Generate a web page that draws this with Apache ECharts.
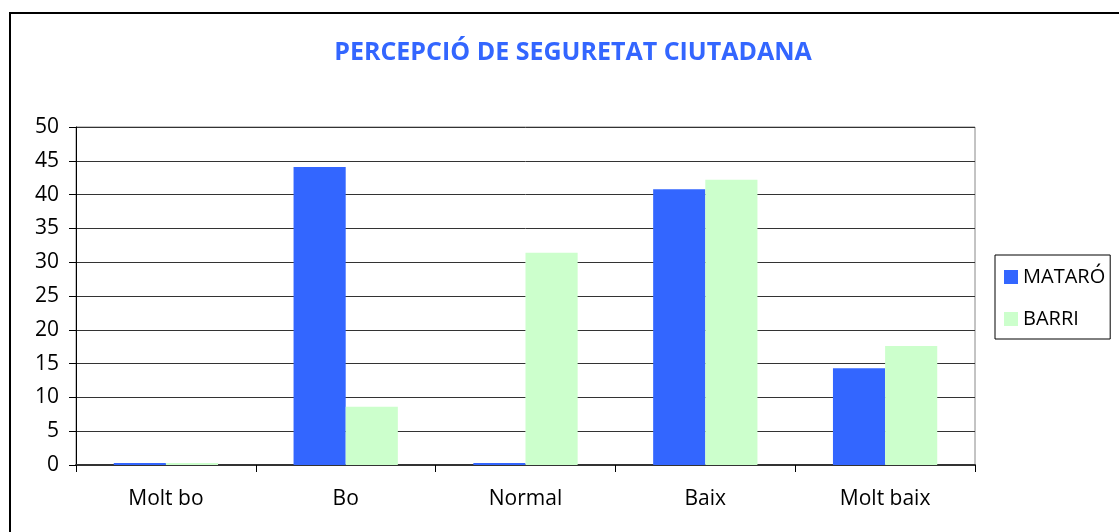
<!DOCTYPE html>
<html>
<head>
<meta charset="utf-8">
<script src="https://cdn.jsdelivr.net/npm/echarts@6/dist/echarts.min.js"></script>
<style>
  html, body { margin: 0; padding: 0; background: #fff; }
  #chart { width: 1119px; height: 532px; }
</style>
</head>
<body>
<div id="chart"></div>
<script>
// dades llegides del gràfic
const categories = ['Molt bo', 'Bo', 'Normal', 'Baix', 'Molt baix']
const mataro = [0.3, 44.1, 0.3, 40.8, 14.3]
const barri = [0.3, 8.6, 31.4, 42.2, 17.6]

const font = "'Open Sans', 'DejaVu Sans', sans-serif"

const chart = echarts.init(document.getElementById('chart'))

chart.setOption({
  animation: false,
  backgroundColor: '#fff',
  title: {
    text: 'PERCEPCIÓ DE SEGURETAT CIUTADANA',
    left: 568,
    top: 35,
    textAlign: 'center',
    textStyle: {
      color: '#3366ff',
      fontFamily: font,
      fontWeight: 'bold',
      fontSize: 25
    }
  },
  // marc exterior
  graphic: [
    {
      type: 'rect',
      shape: { x: 10, y: 13, width: 1200, height: 600 },
      style: { fill: 'none', stroke: '#000', lineWidth: 2 },
      z: -1
    }
  ],
  legend: {
    orient: 'vertical',
    left: 995,
    top: 255,
    itemWidth: 14,
    itemHeight: 14,
    itemGap: 22,
    itemTextGap: 8,
    padding: [12, 5, 10, 9],
    borderColor: '#000',
    borderWidth: 1,
    icon: 'rect',
    textStyle: { fontFamily: font, fontSize: 20, color: '#000' },
    data: ['MATARÓ', 'BARRI']
  },
  grid: {
    left: 76,
    right: 144,
    top: 127,
    bottom: 67,
    show: true,
    borderColor: '#888',
    borderWidth: 1
  },
  xAxis: {
    type: 'category',
    data: categories,
    axisLine: { lineStyle: { color: '#333', width: 2 } },
    axisTick: { show: true, inside: false, length: 7, lineStyle: { color: '#000' } },
    axisLabel: { color: '#000', fontFamily: font, fontSize: 21, margin: 24 }
  },
  yAxis: {
    type: 'value',
    min: 0,
    max: 50,
    interval: 5,
    axisLine: { show: true, lineStyle: { color: '#000' } },
    axisTick: { show: true, length: 7, lineStyle: { color: '#000' } },
    axisLabel: { color: '#000', fontFamily: font, fontSize: 21, margin: 17 },
    splitLine: { lineStyle: { color: '#333', width: 1 } }
  },
  series: [
    {
      name: 'MATARÓ',
      type: 'bar',
      data: mataro,
      barGap: '0%',
      barCategoryGap: '42%',
      itemStyle: { color: '#3366ff' }
    },
    {
      name: 'BARRI',
      type: 'bar',
      data: barri,
      barGap: '0%',
      barCategoryGap: '42%',
      itemStyle: { color: '#ccffcc' }
    }
  ]
})
</script>
</body>
</html>
